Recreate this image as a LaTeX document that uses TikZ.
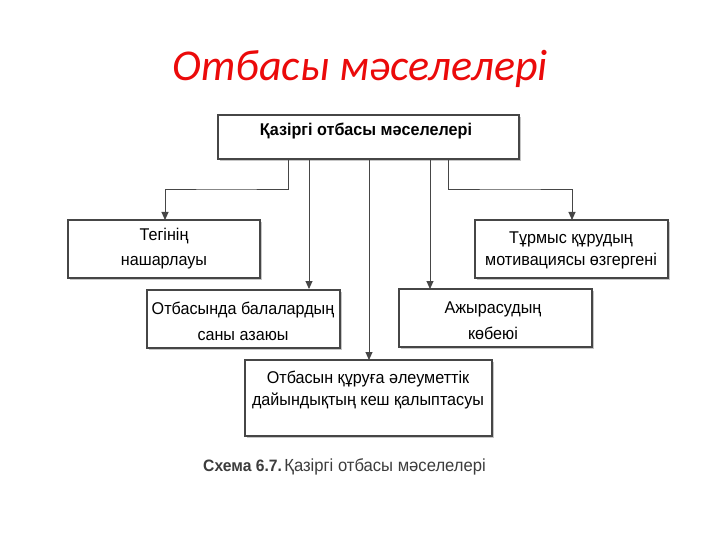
\documentclass[tikz,border=0pt]{standalone}
\usepackage{fontspec}
\setmainfont{Liberation Sans}[FakeStretch=0.95]
\newfontfamily\titlefont{Carlito}
\usetikzlibrary{arrows.meta}
\definecolor{boxline}{RGB}{70,70,70}
\definecolor{captgray}{RGB}{60,60,60}
\tikzset{
  pbox/.style={draw=boxline, line width=1.1pt, fill=white, inner sep=0pt},
  conn/.style={draw=boxline, line width=0.9pt, -{Triangle[width=7pt,length=8pt]}},
  btext/.style={font=\fontsize{17}{25}\selectfont, align=center, text=black},
}
\begin{document}
\begin{tikzpicture}[x=1pt,y=-1pt]
\useasboundingbox (0,0) rectangle (720,540);
% title
\node[font=\titlefont\itshape\fontsize{44}{46}\selectfont, text={rgb,255:red,235;green,10;blue,10}] (title) at (360,69) {Отбасы мәселелері};
% boxes (with slight shadow)
\foreach \a/\b/\c/\d in {218/115/519/159, 68/220/260/278, 475/220/668/278, 147/290/340/348, 399/289/592/347, 245/360/492/436}{
  \fill[gray!45] (\a+2,\b+2) rectangle (\c+2,\d+2);
  \draw[pbox] (\a,\b) rectangle (\c,\d);
}
\node[btext, font=\bfseries\fontsize{17}{20}\selectfont] (t) at (366,131) {Қазіргі отбасы мәселелері};
\node[btext] (l) at (164,249) {Тегінің\\нашарлауы};
\node[btext, font=\fontsize{17}{22}\selectfont] (r) at (571,250) {Тұрмыс құрудың\\мотивациясы өзгергені};
\node[btext, font=\fontsize{17}{26}\selectfont] (ml) at (243,321) {Отбасында балалардың\\саны азаюы};
\node[btext, font=\fontsize{17}{26}\selectfont] (mr) at (493,321) {Ажырасудың\\көбеюі};
\node[btext, font=\fontsize{17}{22}\selectfont] (b) at (368,390) {Отбасын құруға әлеуметтік\\дайындықтың кеш қалыптасуы};
% connectors
\coordinate (s1) at (288,159);
\coordinate (s2) at (309,159);
\coordinate (s3) at (369,159);
\coordinate (s4) at (430,159);
\coordinate (s5) at (448,159);
\coordinate (e1) at (165,220);
\coordinate (e2) at (309,289);
\coordinate (e3) at (369,360);
\coordinate (e4) at (430,289);
\coordinate (e5) at (572,220);
\draw[conn] (s1) |- (226,189) -| (e1);
\draw[conn] (s2) -- (e2);
\draw[conn] (s3) -- (e3);
\draw[conn] (s4) -- (e4);
\draw[conn] (s5) |- (510,189) -| (e5);
% caption
\node[anchor=base west, font=\bfseries\fontsize{16.5}{18}\selectfont, text=captgray, inner sep=0pt] (c1) at (203,471) {Схема 6.7.};
\node[anchor=base west, font=\fontsize{17.5}{18}\selectfont, text=captgray, inner sep=0pt, xshift=2pt] (c2) at (c1.base east) {Қазіргі отбасы мәселелері};
\end{tikzpicture}
\end{document}
